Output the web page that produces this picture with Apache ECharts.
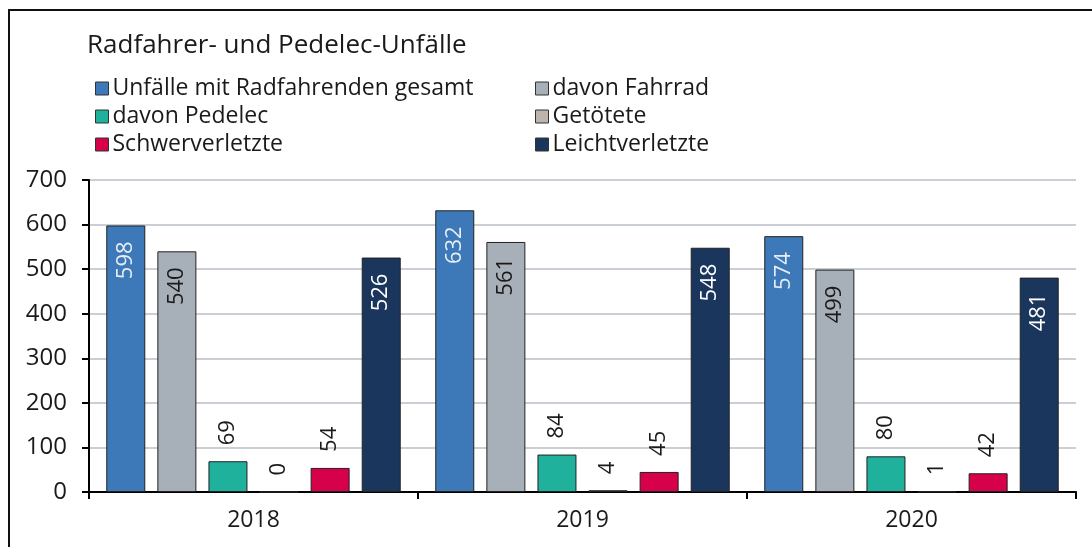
<!DOCTYPE html>
<html>
<head>
<meta charset="utf-8">
<script src="https://cdn.jsdelivr.net/npm/echarts@6/dist/echarts.min.js"></script>
<style>
  html, body { margin: 0; padding: 0; background: #fff; }
  #chart { width: 1092px; height: 547px; }
</style>
</head>
<body>
<div id="chart"></div>
<script>
"use strict";
// Daten
let years = ["2018", "2019", "2020"];
let gesamt = [598, 632, 574];
let fahrrad = [540, 561, 499];
let pedelec = [69, 84, 80];
let getoetete = [0, 4, 1];
let schwer = [54, 45, 42];
let leicht = [526, 548, 481];
let yTicks = [0, 100, 200, 300, 400, 500, 600, 700];

let font = "Open Sans";

/*label innen (große Balken)*/
function innerLabel(color){
    return {
        show: true,
        position: "insideTop",
        distance: 16,
        rotate: 90,
        align: "right",
        verticalAlign: "middle",
        color: color,
        fontFamily: font,
        fontSize: 22
    };
}
/*label oben (kleine Balken)*/
let topLabel = {
    show: true,
    position: "top",
    distance: 16,
    rotate: 90,
    align: "left",
    verticalAlign: "middle",
    color: "#1a1a1a",
    fontFamily: font,
    fontSize: 22
};

function bar(name, data, color, label){
    return {
        type: "bar",
        name: name,
        data: data,
        barWidth: 39,
        barGap: "31%",
        itemStyle: {
            color: color,
            borderColor: "#222",
            borderWidth: 1
        },
        label: label
    };
}

let legendBase = {
    orient: "vertical",
    top: 72,
    itemWidth: 13,
    itemHeight: 13,
    itemGap: 5,
    icon: "rect",
    itemStyle: { borderColor: "#333", borderWidth: 1 },
    textStyle: { fontFamily: font, fontSize: 23, color: "#1a1a1a", padding: [0, 0, 0, -1] }
};

let option = {
    animation: false,
    title: {
        text: "Radfahrer- und Pedelec-Unfälle",
        left: 82,
        top: 28,
        textStyle: { fontFamily: font, fontSize: 26, fontWeight: "normal", color: "#1a1a1a" }
    },
    legend: [
        Object.assign({}, legendBase, { left: 90, data: ["Unfälle mit Radfahrenden gesamt", "davon Pedelec", "Schwerverletzte"] }),
        Object.assign({}, legendBase, { left: 530, data: ["davon Fahrrad", "Getötete", "Leichtverletzte"] })
    ],
    graphic: [{
        type: "rect",
        shape: { x: 9, y: 10, width: 1200, height: 600 },
        style: { fill: "none", stroke: "#111", lineWidth: 2 },
        silent: true
    }],
    grid: { left: 89, right: 16, top: 180, bottom: 55 },
    xAxis: {
        type: "category",
        data: years,
        axisLine: { lineStyle: { color: "#000", width: 2 } },
        axisTick: { show: true, length: 7, lineStyle: { color: "#000", width: 2 } },
        axisLabel: { margin: 17, fontFamily: font, fontSize: 23, color: "#1a1a1a" }
    },
    yAxis: {
        type: "value",
        min: yTicks[0],
        max: yTicks[yTicks.length - 1],
        interval: 100,
        axisLine: { show: true, lineStyle: { color: "#000", width: 2 } },
        axisTick: { show: true, length: 7, lineStyle: { color: "#000", width: 2 } },
        axisLabel: { margin: 22, fontFamily: font, fontSize: 24, color: "#1a1a1a" },
        splitLine: { lineStyle: { color: "#b9bfc7", width: 1.5 } }
    },
    series: [
        bar("Unfälle mit Radfahrenden gesamt", gesamt, "#3d78b8", innerLabel("#e6edf5")),
        bar("davon Fahrrad", fahrrad, "#a7afb8", innerLabel("#1a1a1a")),
        bar("davon Pedelec", pedelec, "#20b19d", topLabel),
        bar("Getötete", getoetete, "#bcb4ad", topLabel),
        bar("Schwerverletzte", schwer, "#d6004b", topLabel),
        bar("Leichtverletzte", leicht, "#1a365d", innerLabel("#ffffff"))
    ]
};

let chart = echarts.init(document.getElementById("chart"));
chart.setOption(option);
</script>
</body>
</html>
